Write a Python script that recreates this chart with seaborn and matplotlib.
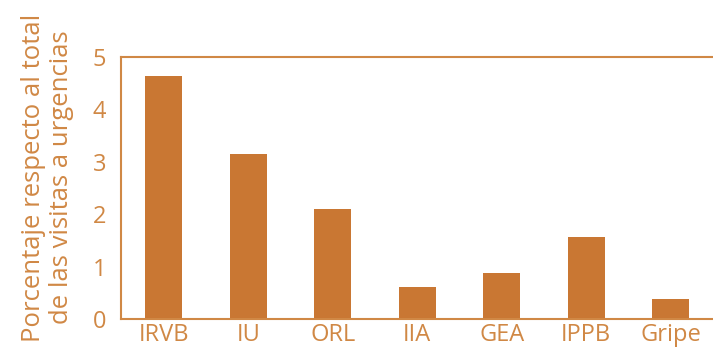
import matplotlib
matplotlib.use("Agg")
import matplotlib.pyplot as plt
import seaborn as sns
import pandas as pd
import numpy as np

# Datos
categorias = ["IRVB", "IU", "ORL", "IIA", "GEA", "IPPB", "Gripe"]
porcentajes = [4.64, 3.14, 2.10, 0.62, 0.88, 1.57, 0.38]

barra = "#C97733"
texto = "#D08845"

sns.set_style("white")
plt.rcParams['font.family'] = ['Open Sans', 'DejaVu Sans']

df = pd.DataFrame({"cat": categorias, "pct": porcentajes})

fig = plt.figure(figsize=(7.13, 3.51), dpi=100)
ax = fig.add_axes([0.1704, 0.0912, 0.8296, 0.7464])

sns.barplot(data=df, x="cat", y="pct", color=barra, saturation=1,
            width=0.44, ax=ax, edgecolor="none")

ax.set_xlim(-0.5, len(categorias) - 0.5)
ax.set_ylim(0, 5)
ax.set_yticks(range(0, 6))

# marcas entre categorías
ax.set_xticks(np.arange(-0.5, len(categorias) - 0.4, 1), minor=True)
ax.tick_params(axis="x", which="major", length=0, pad=3)
ax.tick_params(axis="x", which="minor", length=6, width=1.2, color=texto, direction="out")
ax.tick_params(axis="y", length=8, width=1.2, color=texto, pad=3)
ax.tick_params(labelsize=17, labelcolor=texto)

for s in ["left", "bottom", "top"]:
    ax.spines[s].set_color(texto)
    ax.spines[s].set_linewidth(1.5)
ax.spines["right"].set_visible(False)

ax.set_xlabel("")
ax.set_ylabel("Porcentaje respecto al total\nde las visitas a urgencias",
              fontsize=18.5, color=texto, linespacing=1.15)
ax.yaxis.set_label_coords(-0.08, 0.54)

fig.savefig("out.png", dpi=100)
